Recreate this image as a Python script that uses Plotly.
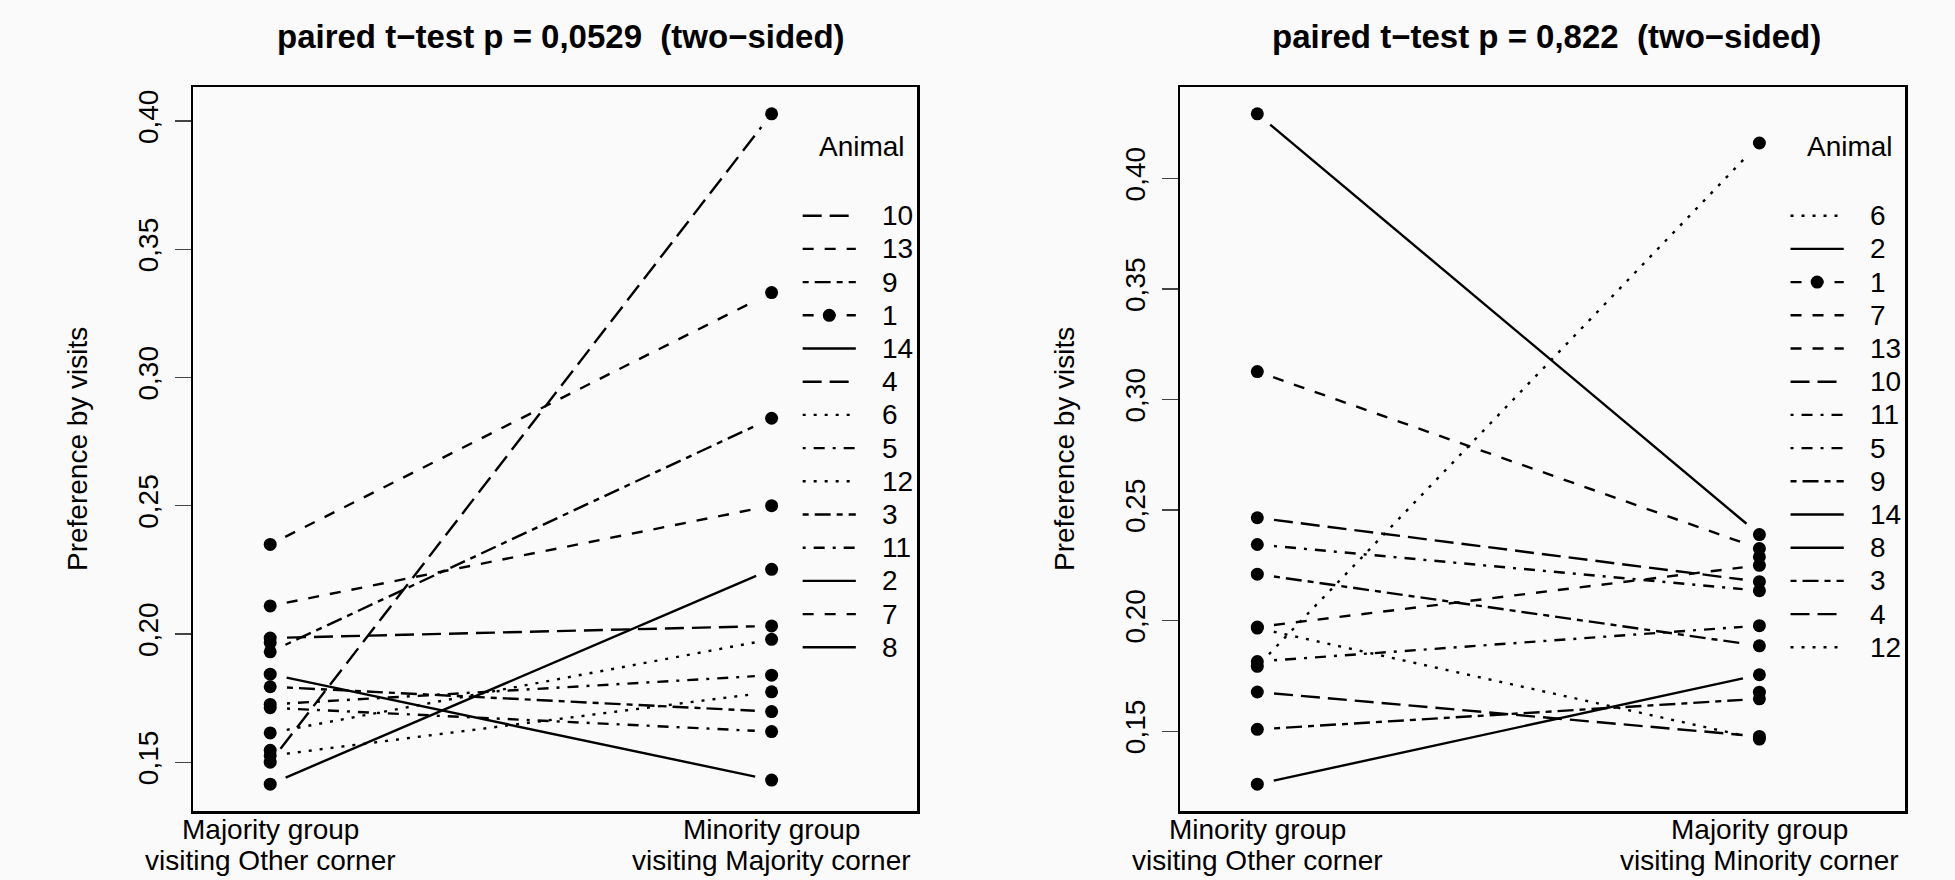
import math
import plotly.graph_objects as go

# ---------------- data ----------------
animals = [str(i) for i in range(1, 15)]

left_title = "paired t\u2212test p = 0,0529 \u00a0(two\u2212sided)"
right_title = "paired t\u2212test p = 0,822 \u00a0(two\u2212sided)"

left_levels = [["Majority group", "visiting Other corner"],
               ["Minority group", "visiting Majority corner"]]
right_levels = [["Minority group", "visiting Other corner"],
                ["Majority group", "visiting Minority corner"]]

# values per animal 1..14 at first / second level (None = missing)
left_first = [0.2109, 0.1843, 0.1794, 0.1984, 0.1725, 0.1614, 0.1966,
              0.1546, 0.1930, 0.1500, 0.1712, 0.1525, 0.2349, 0.1414]
left_second = [0.2500, 0.1430, 0.1697, 0.2031, 0.1839, 0.1979, None,
               None, 0.2841, 0.4028, 0.1619, 0.1774, 0.3331, 0.2252]
right_first = [0.3126, 0.4292, 0.1508, 0.1677, 0.1815, 0.1793, None,
               None, 0.2210, 0.2465, 0.2344, 0.1966, 0.1971, 0.1260]
right_second = [0.2326, 0.2389, 0.1646, 0.1476, 0.1977, 0.4160, 0.2288,
                0.1676, 0.1886, 0.2176, 0.2135, 0.1464, 0.2250, 0.1755]

y_tick_vals = [0.15, 0.20, 0.25, 0.30, 0.35, 0.40]
y_tick_text = ["0,15", "0,20", "0,25", "0,30", "0,35", "0,40"]

y_title = "Preference by visits"
legend_title = "Animal"

# ---------------- styling ----------------
W, H = 1955, 880
FONT = "Liberation Sans, Arial, Helvetica, sans-serif"
FS = 28
BG = "#fafafa"
LW = 2.4
R_DASH = {1: "solid", 2: "11px,11px", 3: "3px,8px", 4: "3px,8px,11px,8px",
          5: "19px,8px", 6: "6px,6px,16px,6px"}


def lty_of(k):
    n = len(animals)
    return ((n - k + 1) - 1) % 6 + 1


X_RANGE = [0.846, 2.29]
PANEL_Y_PX = (87, 811)
PANELS = [
    dict(xpx=(193, 917), first=left_first, second=left_second,
         levels=left_levels, title=left_title, xa="x", ya="y", tshift=6),
    dict(xpx=(1180, 1905), first=right_first, second=right_second,
         levels=right_levels, title=right_title, xa="x2", ya="y2", tshift=4),
]

fig = go.Figure()
annotations = []
shapes = []

GAP = 16.8  # px gap between points and line ends (R type="b")

for p in PANELS:
    vals = [v for v in p["first"] + p["second"] if v is not None]
    lo, hi = min(vals), max(vals)
    r = hi - lo
    yr = [lo - 0.04 * r, hi + 0.04 * r]
    p["yrange"] = yr
    kx = (p["xpx"][1] - p["xpx"][0]) / (X_RANGE[1] - X_RANGE[0])
    ky = (PANEL_Y_PX[1] - PANEL_Y_PX[0]) / (yr[1] - yr[0])

    # lines
    for i, a in enumerate(animals):
        y1, y2 = p["first"][i], p["second"][i]
        if y1 is None or y2 is None:
            continue
        dxp, dyp = 1.0 * kx, (y2 - y1) * ky
        f = GAP / math.hypot(dxp, dyp)
        xs = [1 + f, 2 - f]
        ys = [y1 + f * (y2 - y1), y2 - f * (y2 - y1)]
        fig.add_trace(go.Scatter(
            x=xs, y=ys, mode="lines", xaxis=p["xa"], yaxis=p["ya"],
            line=dict(color="black", width=LW, dash=R_DASH[lty_of(i + 1)]),
            showlegend=False, hoverinfo="skip"))
    # points
    px_, py_ = [], []
    for lvl, arr in ((1, p["first"]), (2, p["second"])):
        for v in arr:
            if v is not None:
                px_.append(lvl)
                py_.append(v)
    fig.add_trace(go.Scatter(
        x=px_, y=py_, mode="markers", xaxis=p["xa"], yaxis=p["ya"],
        marker=dict(color="black", size=13, line=dict(width=0)),
        showlegend=False, hoverinfo="skip"))

    # legend order: decreasing by last level, missing last
    order = sorted(range(len(animals)),
                   key=lambda i: (p["second"][i] is None,
                                  -(p["second"][i] or 0)))
    row0, drow = 215.7, 33.2
    annotations.append(dict(
        text=legend_title, x=2.18, xref=p["xa"], y=(H - 147) / H,
        yref="paper", xanchor="center", yanchor="middle", showarrow=False,
        font=dict(family=FONT, size=FS, color="black")))
    for j, i in enumerate(order):
        yp = (H - (row0 + j * drow)) / H
        shapes.append(dict(
            type="line", xref=p["xa"], yref="paper", x0=2.062, x1=2.168,
            y0=yp, y1=yp,
            line=dict(color="black", width=LW, dash=R_DASH[lty_of(i + 1)])))
        if i == 0:
            shapes.append(dict(
                type="circle", xref=p["xa"], yref="paper",
                xsizemode="pixel", ysizemode="pixel",
                xanchor=2.115, yanchor=yp, x0=-6.5, x1=6.5, y0=-6.5, y1=6.5,
                fillcolor="black", line=dict(width=0)))
        annotations.append(dict(
            text=animals[i], x=2.217, xref=p["xa"], y=yp, yref="paper",
            xanchor="left", yanchor="middle", showarrow=False,
            font=dict(family=FONT, size=FS, color="black")))

    # x category labels (two lines each)
    for lvl, lines in zip((1, 2), p["levels"]):
        for li, (txt, ypx) in enumerate(zip(lines, (829, 860))):
            annotations.append(dict(
                text=txt, x=lvl, xref=p["xa"], y=(H - ypx) / H,
                yref="paper", xanchor="center", yanchor="middle",
                showarrow=False,
                font=dict(family=FONT, size=FS, color="black")))
    # title
    cx = (p["xpx"][0] + p["xpx"][1]) / 2 + p["tshift"]
    annotations.append(dict(
        text="<b>" + p["title"] + "</b>", x=cx / W, xref="paper",
        y=(H - 37) / H, yref="paper", xanchor="center", yanchor="middle",
        showarrow=False, font=dict(family=FONT, size=33, color="black")))
    # y title
    annotations.append(dict(
        text=y_title, x=(p["xpx"][0] - 116) / W, xref="paper",
        y=(H - (PANEL_Y_PX[0] + PANEL_Y_PX[1]) / 2) / H, yref="paper",
        xanchor="center", yanchor="middle", textangle=-90, showarrow=False,
        font=dict(family=FONT, size=FS, color="black")))

ydom = [(H - PANEL_Y_PX[1]) / H, (H - PANEL_Y_PX[0]) / H]

axis_common = dict(showgrid=False, zeroline=False, showline=True,
                   mirror=True, linecolor="black", linewidth=2.5,
                   automargin=False, fixedrange=True)

layout_axes = {}
for n, p in enumerate(PANELS, start=1):
    sx = "" if n == 1 else str(n)
    layout_axes["xaxis" + sx] = dict(
        domain=[p["xpx"][0] / W, p["xpx"][1] / W], range=X_RANGE,
        showticklabels=False, ticks="", anchor="y" + sx, **axis_common)
    layout_axes["yaxis" + sx] = dict(
        domain=ydom, range=p["yrange"], anchor="x" + sx,
        tickvals=y_tick_vals, ticktext=y_tick_text, ticks="outside",
        ticklen=16, tickwidth=1.2, tickcolor="#444", tickangle=-90,
        ticklabelstandoff=5,
        tickfont=dict(family=FONT, size=FS, color="black"), **axis_common)

fig.update_layout(
    width=W, height=H, autosize=False,
    margin=dict(l=0, r=0, t=0, b=0, pad=0),
    paper_bgcolor=BG, plot_bgcolor=BG,
    showlegend=False, hovermode=False,
    annotations=annotations, shapes=shapes,
    font=dict(family=FONT, size=FS, color="black"),
    **layout_axes)

fig.write_html(
    "out.html",
    config={"displayModeBar": False, "staticPlot": True},
    post_script="document.body.style.margin='0px';"
                "document.body.style.overflow='hidden';"
                "document.body.style.background='" + BG + "';")
